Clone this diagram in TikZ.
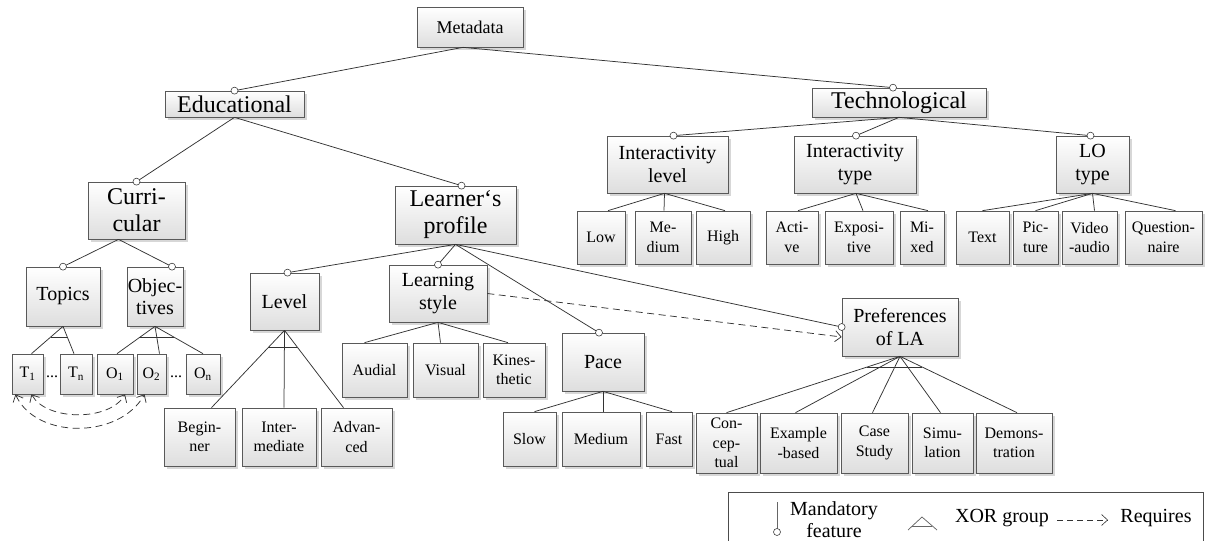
\documentclass[tikz,border=0pt]{standalone}
\usepackage{fontspec}
\setmainfont{Liberation Serif}
\usepackage{xcolor}
\usepackage{tikz}
\usetikzlibrary{shadows,arrows.meta,calc}

\tikzset{
  caja/.style={draw=black!65, line width=0.7pt, top color=white, bottom color=black!13,
    drop shadow={shadow xshift=2.5pt, shadow yshift=-2.5pt, fill=black!35, opacity=0.45},
    align=center, inner sep=0pt},
  hoja/.style={caja, f16, minimum height=54},
  f16/.style={font=\fontsize{16}{19.5}\selectfont},
  f20/.style={font=\fontsize{20}{22.5}\selectfont},
  f24/.style={font=\fontsize{24}{27}\selectfont},
  enlace/.style={draw=black!80, line width=0.75pt},
  oblig/.style={circle, draw=black!75, fill=white, line width=0.6pt, inner sep=0pt, minimum size=7pt},
  requiere/.style={enlace, dash pattern=on 7pt off 4.5pt, -{Straight Barb[length=6pt,width=11pt]}},
}

\begin{document}
\begin{tikzpicture}[x=1pt,y=-1pt]

    \useasboundingbox (0,0) rectangle (1211,541);

    % Raiz
    \node[caja, font=\fontsize{18}{20}\selectfont, minimum width=106, minimum height=40] (meta) at (470,27) {Metadata};

    % Primer nivel
    \node[caja, f24, minimum width=139, minimum height=26] (edu) at (234.5,104) {Educational};
    \node[caja, f24, minimum width=174, minimum height=29] (tech) at (899,102.5) {Technological};

    % Rama educativa
    \node[caja, f24, minimum width=97, minimum height=57] (curr) at (136.5,210.5) {Curri-\\cular};
    \node[caja, f24, minimum width=121, minimum height=58] (lprof) at (455.5,215) {Learner‘s\\profile};

    \node[caja, f20, minimum width=74, minimum height=59] (topics) at (63,296.5) {Topics};
    \node[caja, f20, minimum width=56, minimum height=59] (obj) at (155,296.5) {Objec-\\tives};

    \node[hoja, minimum width=31, minimum height=40] (t1) at (27.5,374) {T\textsubscript{1}};
    \node[hoja, minimum width=32, minimum height=40] (tn) at (76,374) {T\textsubscript{n}};
    \node[hoja, minimum width=36, minimum height=40] (o1) at (115,374) {O\textsubscript{1}};
    \node[hoja, minimum width=29, minimum height=40] (o2) at (151.5,374) {O\textsubscript{2}};
    \node[hoja, minimum width=34, minimum height=40] (on) at (203,374) {O\textsubscript{n}};
    \node[f16] (puntosT) at (52,377) {...};
    \node[f16] (puntosO) at (176,377) {...};

    \node[caja, f20, minimum width=69, minimum height=57] (level) at (284.5,301.5) {Level};
    \node[caja, f20, minimum width=98, minimum height=57] (lstyle) at (438,293.5) {Learning\\style};
    \node[caja, f20, minimum width=82, minimum height=58] (pace) at (603,362) {Pace};
    \node[caja, f20, minimum width=116, minimum height=58] (prefs) at (900,327) {Preferences\\of LA};

    \node[hoja, minimum width=71, minimum height=58] (beginner) at (199.5,437) {Begin-\\ner};
    \node[hoja, minimum width=74, minimum height=58] (interm) at (279,437) {Inter-\\mediate};
    \node[hoja, minimum width=71, minimum height=58] (advanced) at (356.5,437) {Advan-\\ced};

    \node[hoja, minimum width=65] (audial) at (374.5,370) {Audial};
    \node[hoja, minimum width=65] (visual) at (445.5,370) {Visual};
    \node[hoja, minimum width=62] (kines) at (514,370) {Kines-\\thetic};

    \node[hoja, minimum width=53] (slow) at (529.5,439) {Slow};
    \node[hoja, minimum width=78] (medium) at (601,439) {Medium};
    \node[hoja, minimum width=46] (fast) at (669,439) {Fast};

    \node[hoja, minimum width=61, minimum height=60] (concept) at (726.5,443) {Con-\\cep-\\tual};
    \node[hoja, minimum width=77, minimum height=60] (example) at (798.5,443) {Example\\-based};
    \node[hoja, minimum width=67, minimum height=60] (casest) at (874.5,443) {Case\\Study};
    \node[hoja, minimum width=61, minimum height=60] (simu) at (942.5,443) {Simu-\\lation};
    \node[hoja, minimum width=76, minimum height=60] (demo) at (1014,443) {Demons-\\tration};

    % Rama tecnologica
    \node[caja, f20, minimum width=121, minimum height=57] (ilevel) at (667.5,164.5) {Interactivity\\level};
    \node[caja, f20, minimum width=122, minimum height=57] (itype) at (855,164.5) {Interactivity\\type};
    \node[caja, f20, minimum width=73, minimum height=57] (lotype) at (1092.5,164.5) {LO\\type};

    \node[hoja, minimum width=48, minimum height=53] (low) at (601,237.5) {Low};
    \node[hoja, minimum width=56, minimum height=53] (imed) at (663,237.5) {Me-\\dium};
    \node[hoja, minimum width=54, minimum height=53] (high) at (723,237.5) {High};
    \node[hoja, minimum width=52, minimum height=53] (active) at (792,237.5) {Acti-\\ve};
    \node[hoja, minimum width=68, minimum height=53] (expos) at (859,237.5) {Exposi-\\tive};
    \node[hoja, minimum width=44, minimum height=53] (mixed) at (922,237.5) {Mi-\\xed};
    \node[hoja, minimum width=53, minimum height=53] (txt) at (982.5,237.5) {Text};
    \node[hoja, minimum width=45, minimum height=53] (pic) at (1035.5,237.5) {Pic-\\ture};
    \node[hoja, minimum width=55, minimum height=53] (video) at (1089.5,237.5) {Video\\-audio};
    \node[hoja, minimum width=77, minimum height=53] (quest) at (1163.5,237.5) {Question-\\naire};

    % Enlaces obligatorios
    \draw[enlace] ($(meta.south)+(-7,0)$) -- (edu.north) node[oblig]{};
    \draw[enlace] ($(meta.south)+(-7,0)$) -- ($(tech.north)+(-6,0)$) node[oblig]{};
    \draw[enlace] (edu.south) -- (curr.north) node[oblig]{};
    \draw[enlace] (edu.south) -- ($(lprof.north)+(6,0)$) node[oblig]{};
    \draw[enlace] ($(curr.south)+(-18,0)$) -- (topics.north) node[oblig]{};
    \draw[enlace] ($(curr.south)+(-18,0)$) -- ($(obj.north)+(17,0)$) node[oblig]{};
    \draw[enlace] (lprof.south) -- ($(level.north)+(3,0)$) node[oblig]{};
    \draw[enlace] (lprof.south) -- (lstyle.north) node[oblig]{};
    \draw[enlace] (lprof.south) -- ($(pace.north)+(-4,0)$) node[oblig]{};
    \draw[enlace] (lprof.south) -- (prefs.west) node[oblig]{};
    \draw[enlace] (tech.south) -- ($(ilevel.north)+(6,0)$) node[oblig]{};
    \draw[enlace] (tech.south) -- ($(itype.north)+(1,0)$) node[oblig]{};
    \draw[enlace] (tech.south) -- ($(lotype.north)+(-2,0)$) node[oblig]{};

    % Grupos XOR
    \foreach \h/\d in {t1/4,tn/-2}
        \draw[enlace] (topics.south) -- ($(\h.north)+(\d,0)$) coordinate[pos=0.39] (x\h);
    \draw[enlace] (xt1) -- (xtn);
    \foreach \h/\d in {o1/2,o2/8,on/0}
        \draw[enlace] (obj.south) -- ($(\h.north)+(\d,0)$) coordinate[pos=0.39] (x\h);
    \draw[enlace] (xo1) -- (xon);
    \foreach \h/\d in {beginner/12,interm/5,advanced/-13}
        \draw[enlace] (level.south) -- ($(\h.north)+(\d,0)$) coordinate[pos=0.22] (x\h);
    \draw[enlace] (xbeginner) -- (xadvanced);
    \foreach \h/\d in {concept/0,example/-3,casest/-2,simu/-2,demo/3}
        \draw[enlace] (prefs.south) -- ($(\h.north)+(\d,0)$) coordinate[pos=0.19] (x\h);
    \draw[enlace] (xconcept) -- (xdemo);

    % Hojas restantes
    \foreach \h/\d in {audial/-10,visual/-5,kines/-6}
        \draw[enlace] (lstyle.south) -- ($(\h.north)+(\d,0)$);
    \foreach \h/\d in {slow/5,medium/2,fast/3}
        \draw[enlace] (pace.south) -- ($(\h.north)+(\d,0)$);
    \foreach \h/\d in {low/7,imed/1,high/2}
        \draw[enlace] ($(ilevel.south)+(-3,0)$) -- ($(\h.north)+(\d,0)$);
    \foreach \h/\d in {active/6,expos/4,mixed/6}
        \draw[enlace] ($(itype.south)+(1,0)$) -- ($(\h.north)+(\d,0)$);
    \foreach \h/\d in {txt/0,pic/0,video/5,quest/12}
        \draw[enlace] (lotype.south) -- ($(\h.north)+(\d,0)$);

    % Requiere
    \draw[requiere] (lstyle.east) -- ($(prefs.west)+(0,10)$);
    \draw[requiere, {Straight Barb[length=6pt,width=11pt]}-{Straight Barb[length=6pt,width=11pt]}]
        ($(t1.south)+(-12,0)$) .. controls +(20,45) and +(-25,45) .. ($(o2.south)+(-7,0)$);
    \draw[requiere, {Straight Barb[length=6pt,width=11pt]}-{Straight Barb[length=6pt,width=11pt]}]
        ($(t1.south)+(4,0)$) .. controls +(15,27) and +(-15,27) .. ($(o1.south)+(10,0)$);

    % Leyenda
    \draw[black!70, line width=0.7pt] (728,492) rectangle (1203,560);
    \coordinate (mandA) at (777,502);
    \coordinate (mandB) at (777,532);
    \draw[enlace, black!60] (mandA) -- (mandB) node[oblig]{};
    \node[align=center, font=\fontsize{20}{22}\selectfont] (mandT) at (834,520) {Mandatory\\feature};
    \coordinate (xorA) at (922,517);
    \draw[enlace, black!60] (908,530) -- (xorA) -- (937,530);
    \draw[enlace, black!60] (912,526.5) -- (932,526.5);
    \node[f20] (xorT) at (1002,518) {XOR group};
    \coordinate (reqA) at (1057,520);
    \coordinate (reqB) at (1108,520);
    \draw[requiere, line width=0.6pt, dash pattern=on 6pt off 4pt] (reqA) -- (reqB);
    \node[f20] (reqT) at (1156,518) {Requires};

\end{tikzpicture}
\end{document}
